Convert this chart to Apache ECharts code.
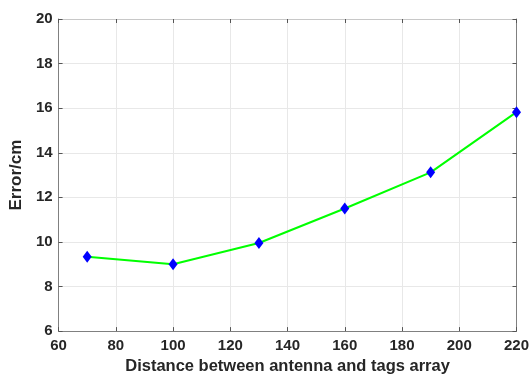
<!DOCTYPE html>
<html>
<head>
<meta charset="utf-8">
<script src="https://cdn.jsdelivr.net/npm/echarts@6/dist/echarts.min.js"></script>
<style>html,body{margin:0;padding:0;background:#fff}#c{width:532px;height:380px}</style>
</head>
<body>
<div id="c"></div>
<script>
var distances = [70, 100, 130, 160, 190, 220];
var errors = [9.33, 9.0, 9.95, 11.5, 13.12, 15.82];
var xTitle = 'Distance between antenna and tags array';
var yTitle = 'Error/cm';

var chart = echarts.init(document.getElementById('c'));
var font = 'Liberation Sans, Arial, sans-serif';
var axisLine = {show: true, lineStyle: {color: '#808080', width: 1}};
var tick = {show: true, inside: true, length: 4, lineStyle: {color: '#555'}};
var lbl = {color: '#262626', fontWeight: 'bold', fontSize: 15, fontFamily: font};
var split = {show: true, lineStyle: {color: '#e8e8e8', width: 1}};
chart.setOption({
  animation: false,
  grid: {left: 54, right: 11, top: 19, bottom: 43},
  xAxis: [{
    type: 'value', min: 60, max: 220, interval: 20,
    axisLine: axisLine, axisTick: tick, splitLine: split,
    axisLabel: Object.assign({margin: 7}, lbl),
    name: xTitle, nameLocation: 'middle', nameGap: 26,
    nameTextStyle: {color: '#262626', fontWeight: 'bold', fontSize: 16.5, fontFamily: font}
  }, {
    type: 'value', position: 'top', min: 60, max: 220, interval: 20,
    axisLine: {show: true, lineStyle: {color: '#c8c8c8'}}, axisTick: tick, splitLine: {show: false}, axisLabel: {show: false}
  }],
  yAxis: [{
    type: 'value', min: 6, max: 20, interval: 2,
    axisLine: axisLine, axisTick: tick, splitLine: split,
    axisLabel: Object.assign({margin: 6}, lbl),
    name: yTitle, nameLocation: 'middle', nameGap: 26,
    nameTextStyle: {color: '#262626', fontWeight: 'bold', fontSize: 17, fontFamily: font}
  }, {
    type: 'value', position: 'right', min: 6, max: 20, interval: 2,
    axisLine: axisLine, axisTick: tick, splitLine: {show: false}, axisLabel: {show: false}
  }],
  series: [{
    type: 'line',
    data: distances.map(function (d, i) { return [d, errors[i]]; }),
    lineStyle: {color: '#00ff00', width: 2},
    symbol: 'diamond', symbolSize: [9, 12],
    itemStyle: {color: '#0000ff'},
    clip: false
  }]
});
</script>
</body>
</html>
